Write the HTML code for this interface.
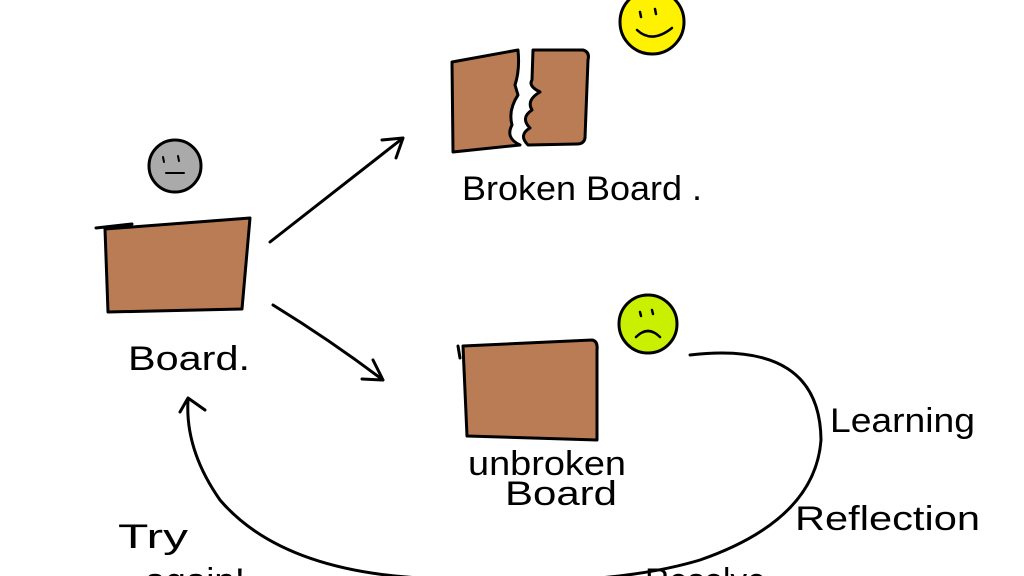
<!DOCTYPE html><html><head><style>body{margin:0;background:#fff}svg{display:block}text{font-family:"Liberation Sans",sans-serif;fill:#000}</style></head><body>
<svg width="1024" height="576" viewBox="0 0 1024 576" xmlns="http://www.w3.org/2000/svg">
<g stroke="#000" stroke-width="3" stroke-linejoin="round" stroke-linecap="round">
<circle cx="175" cy="166" r="26" fill="#aaaaaa"/>
<path d="M96 228 L132 224 M105 229 L250 218 L242 309 L108 312 Z" fill="#b97c55"/>
<path d="M452 62 L518 50 Q520 70 515 85 L518 95 Q508 110 512 125 Q505 138 520 145 L453 152 Z" fill="#b97c55"/>
<path d="M533 50 L583 50 Q590 52 588 60 L585 138 Q584 144 577 144 L528 145 Q518 135 530 128 Q520 118 532 110 Q526 100 540 92 Q528 86 532 80 Z" fill="#b97c55"/>
<circle cx="652" cy="22" r="32" fill="#fff200"/>
<circle cx="648" cy="324" r="29" fill="#c9f000"/>
<path d="M458 346 L460 358 M463 346 L592 340 Q598 341 597 350 L597 440 L467 436 Z" fill="#b97c55"/>
<path d="M270 242 L403 138 M382 140 L403 138 L396 158" fill="none"/>
<path d="M273 305 Q330 340 383 380 M373 360 L383 380 L362 379" fill="none"/>
<path d="M690 355 Q820 340 821 440 Q815 520 700 560 Q600 590 420 578 Q280 570 220 500 Q185 450 188 400 M180 412 L188 398 L205 410" fill="none"/>
<path d="M163 157 L164 162 M178 156 L179 161 M166 173 L184 173" fill="none" stroke-width="2"/>
<path d="M640 12 L641 17 M655 9 L656 14 M637 30 Q652 44 672 28" fill="none" stroke-width="2.5"/>
<path d="M640 312 L641 316 M652 310 L653 314 M636 337 Q648 325 660 337" fill="none" stroke-width="2.5"/>
</g>
<g font-size="34">
<text x="128" y="370" textLength="122" lengthAdjust="spacingAndGlyphs">Board.</text>
<text x="462" y="200" textLength="240" lengthAdjust="spacingAndGlyphs">Broken Board .</text>
<text x="468" y="475" textLength="158" lengthAdjust="spacingAndGlyphs">unbroken</text>
<text x="505" y="505" textLength="112" lengthAdjust="spacingAndGlyphs">Board</text>
<text x="830" y="432" textLength="145" lengthAdjust="spacingAndGlyphs">Learning</text>
<text x="795" y="530" textLength="185" lengthAdjust="spacingAndGlyphs">Reflection</text>
<text x="118" y="548" textLength="70" lengthAdjust="spacingAndGlyphs">Try</text>
<text x="145" y="592" textLength="100" lengthAdjust="spacingAndGlyphs">again!</text>
<text x="645" y="592" textLength="130" lengthAdjust="spacingAndGlyphs">Resolve.</text>
</g>
</svg></body></html>
